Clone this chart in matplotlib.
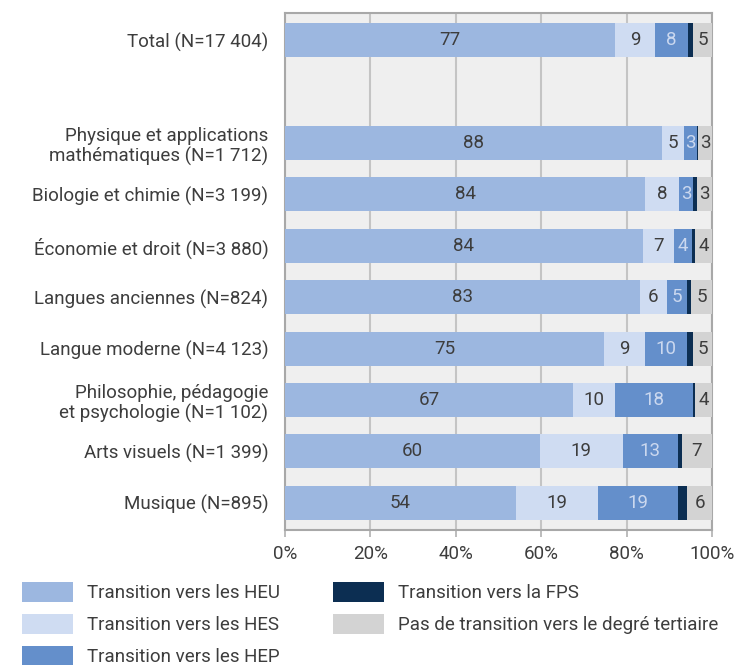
import numpy as np
import matplotlib
matplotlib.use("Agg")
import matplotlib.pyplot as plt
from matplotlib.patches import Patch

plt.rcParams['font.family'] = ['Roboto', 'DejaVu Sans']

# Categories (empty slot after Total)
labels = ["Total (N=17 404)",
          "Physique et applications\nmathématiques (N=1 712)",
          "Biologie et chimie (N=3 199)",
          "Économie et droit (N=3 880)",
          "Langues anciennes (N=824)",
          "Langue moderne (N=4 123)",
          "Philosophie, pédagogie\net psychologie (N=1 102)",
          "Arts visuels (N=1 399)",
          "Musique (N=895)"]
rows = [0, 2, 3, 4, 5, 6, 7, 8, 9]

# Shares in %
heu = [77.3, 88.2, 84.4, 83.8, 83.1, 74.8, 67.4, 59.7, 54.1]
hes = [9.4, 5.3, 7.8, 7.2, 6.3, 9.4, 9.9, 19.4, 19.3]
hep = [7.6, 2.9, 3.4, 4.4, 4.8, 9.9, 18.2, 12.9, 18.6]
fps = [1.2, 0.4, 0.9, 0.6, 0.9, 1.5, 0.5, 0.9, 2.2]
pas = [4.6, 3.2, 3.4, 4.0, 4.9, 4.6, 4.0, 7.1, 5.8]

series = [
    ("Transition vers les HEU", heu, "#9cb7e0", "#3d3d3d"),
    ("Transition vers les HES", hes, "#cfdcf2", "#3d3d3d"),
    ("Transition vers les HEP", hep, "#648fcb", "#cbd8ef"),
    ("Transition vers la FPS", fps, "#0c2e52", None),
    ("Pas de transition vers le degré tertiaire", pas, "#d3d3d3", "#3d3d3d"),
]

fig = plt.figure(figsize=(7.35, 6.65), dpi=100)
ax = fig.add_axes([285 / 735, 135 / 665, 427 / 735, 517 / 665])
ax.set_facecolor("#efefef")

left = np.zeros(len(rows))
handles = []
for name, vals, col, tcol in series:
    vals = np.array(vals)
    bars = ax.barh(rows, vals, left=left, height=0.66, color=col, zorder=3)
    if tcol is not None:
        for b, v in zip(bars, vals):
            ax.text(b.get_x() + b.get_width() / 2, b.get_y() + b.get_height() / 2,
                    f"{v:.0f}", ha="center", va="center", fontsize=13.5,
                    color=tcol, zorder=4)
    left += vals
    handles.append(Patch(facecolor=col, label=name))

ax.set_xlim(0, 100)
ax.set_ylim(9.53, -0.53)
ax.set_xticks(np.arange(0, 101, 20))
ax.set_xticklabels([f"{t}%" for t in range(0, 101, 20)])
ax.set_yticks(rows)
ax.set_yticklabels(labels, linespacing=1.15)
ax.tick_params(axis="y", length=0, pad=12, labelsize=13.5, labelcolor="#3d3d3d")
ax.tick_params(axis="x", length=5, width=1.2, color="#b0b0b0", pad=6,
               labelsize=13.5, labelcolor="#3d3d3d")
ax.grid(axis="x", color="#c4c4c4", linewidth=1.5, zorder=1)
for s in ax.spines.values():
    s.set_color("#a8a8a8")
    s.set_linewidth(1.5)

fs = 13.5 * 100 / 72
fig.legend(handles=handles, ncol=2, loc="upper left",
           bbox_to_anchor=(22 / 735, 1 - 582 / 665), frameon=False,
           fontsize=13.5, labelcolor="#3d3d3d", borderpad=0, borderaxespad=0,
           handlelength=51 / fs, handleheight=24 / fs, handletextpad=0.75,
           labelspacing=0.62, columnspacing=2.8)

fig.savefig("out.png", dpi=100)
